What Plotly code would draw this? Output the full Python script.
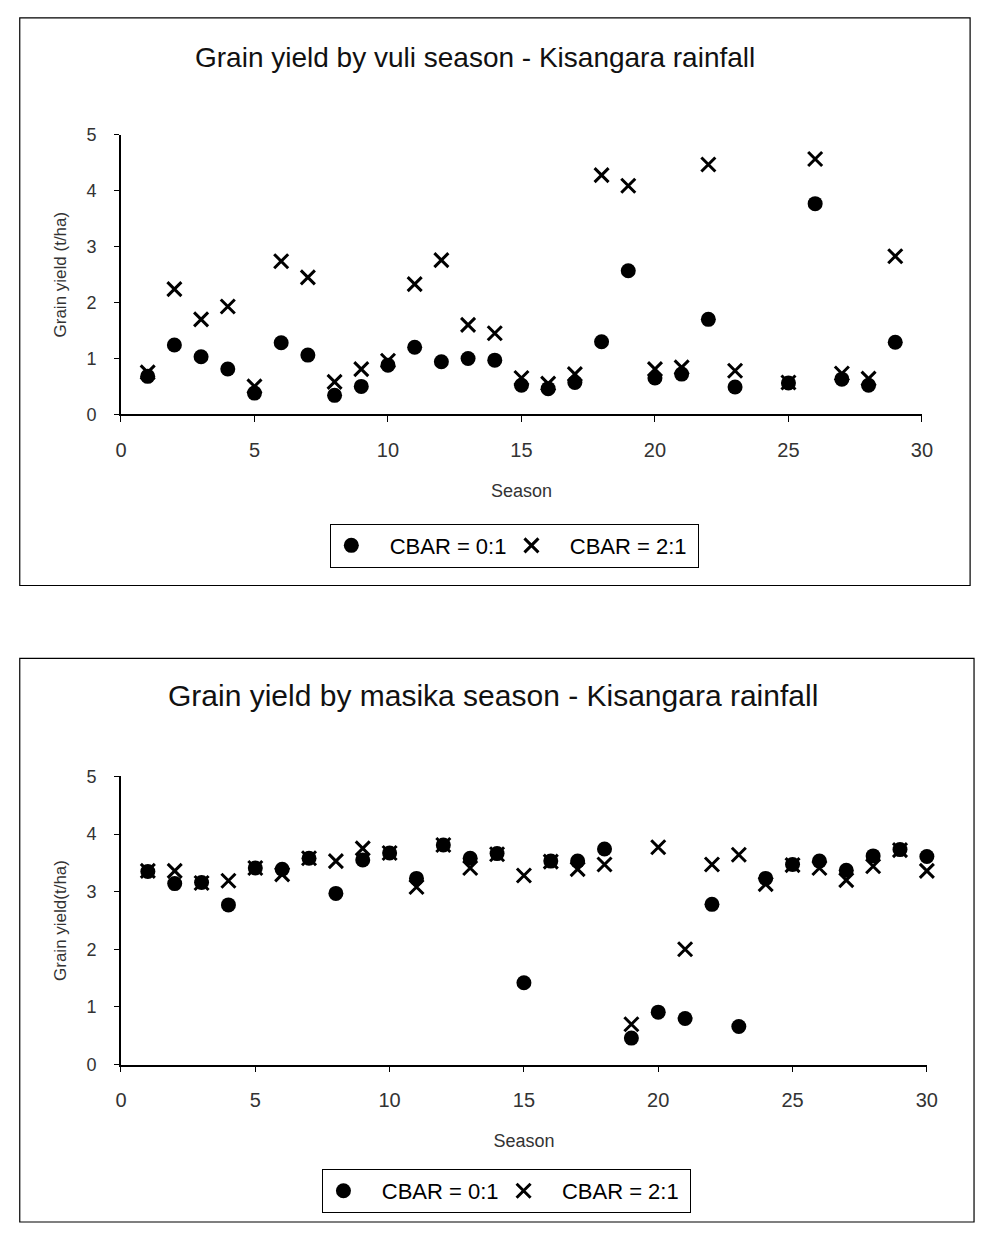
import plotly.graph_objects as go

W, H = 987, 1233

# ---------------- data ----------------
season_vuli = list(range(1, 30))
vuli_cbar01 = [0.68, 1.24, 1.03, 0.81, 0.38, 1.28, 1.06, 0.34, 0.50, 0.88,
               1.20, 0.94, 1.00, 0.97, 0.52, 0.46, 0.57, 1.30, 2.57, 0.65,
               0.72, 1.70, 0.49, -0.05, 0.56, 3.77, 0.63, 0.52, 1.29]
vuli_cbar21 = [0.75, 2.24, 1.70, 1.93, 0.50, 2.74, 2.45, 0.58, 0.81, 0.96,
               2.33, 2.76, 1.60, 1.45, 0.65, 0.55, 0.72, 4.28, 4.09, 0.81,
               0.84, 4.47, 0.78, -0.03, 0.57, 4.57, 0.73, 0.64, 2.83]

season_masika = list(range(1, 31))
masika_cbar01 = [3.35, 3.14, 3.16, 2.77, 3.41, 3.39, 3.58, 2.97, 3.55, 3.67,
                 3.23, 3.81, 3.58, 3.66, 1.42, 3.53, 3.53, 3.74, 0.46, 0.91,
                 0.80, 2.78, 0.66, 3.23, 3.47, 3.53, 3.37, 3.62, 3.73, 3.61]
masika_cbar21 = [3.36, 3.36, 3.15, 3.19, 3.41, 3.30, 3.58, 3.53, 3.75, 3.67,
                 3.08, 3.81, 3.41, 3.65, 3.28, 3.52, 3.39, 3.47, 0.70, 3.77,
                 2.00, 3.47, 3.64, 3.13, 3.46, 3.41, 3.20, 3.44, 3.72, 3.36]

x_ticks = [0, 5, 10, 15, 20, 25, 30]
y_ticks = [0, 1, 2, 3, 4, 5]
NB = "\u00a0"
names = [NB * 3 + "CBAR = 0:1", NB * 3 + "CBAR = 2:1" + NB]

# ---------------- helpers ----------------
def px_x(p):
    return p / W

def px_y(p):
    return 1 - p / H

circle = dict(symbol="circle", size=15, color="black")
cross = dict(symbol="x-thin", size=14, color="black", line=dict(color="black", width=3))

fig = go.Figure()
fig.add_trace(go.Scatter(x=season_vuli, y=vuli_cbar01, mode="markers", marker=circle,
                         name=names[0], xaxis="x", yaxis="y", legend="legend", cliponaxis=False))
fig.add_trace(go.Scatter(x=season_vuli, y=vuli_cbar21, mode="markers", marker=cross,
                         name=names[1], xaxis="x", yaxis="y", legend="legend", cliponaxis=False))
fig.add_trace(go.Scatter(x=season_masika, y=masika_cbar01, mode="markers", marker=circle,
                         name=names[0], xaxis="x2", yaxis="y2", legend="legend2", cliponaxis=False))
fig.add_trace(go.Scatter(x=season_masika, y=masika_cbar21, mode="markers", marker=cross,
                         name=names[1], xaxis="x2", yaxis="y2", legend="legend2", cliponaxis=False))

tick_font_x = dict(family="Liberation Sans, Arial", size=20, color="#333")
tick_font_y = dict(family="Liberation Sans, Arial", size=18, color="#333")
title_font = dict(family="Liberation Sans, Arial", size=17, color="#333")

def xax(domain, anchor):
    return dict(domain=domain, anchor=anchor, range=[0, 30], tickvals=x_ticks,
                showline=True, linecolor="black", linewidth=1.5, showgrid=False,
                zeroline=False, ticks="outside", ticklen=6, tickwidth=1.2, tickcolor="black",
                tickfont=tick_font_x, ticklabelstandoff=11,
                title=dict(text="Season", font=dict(family="Liberation Sans, Arial", size=18, color="#333"),
                           standoff=24))

def yax(domain, anchor, title):
    return dict(domain=domain, anchor=anchor, range=[0, 5], tickvals=y_ticks,
                showline=True, linecolor="black", linewidth=1.5, showgrid=False,
                zeroline=False, ticks="outside", ticklen=5, tickwidth=1.2, tickcolor="black",
                tickfont=tick_font_y, ticklabelstandoff=14,
                title=dict(text=title, font=title_font, standoff=16))

legend_font = dict(family="Liberation Sans, Arial", size=22, color="black")

fig.update_layout(
    width=W, height=H,
    margin=dict(l=0, r=0, t=0, b=0),
    paper_bgcolor="white", plot_bgcolor="white",
    xaxis=xax([px_x(117), px_x(932)], "y"),
    yaxis=yax([px_y(411), px_y(127)], "x", "Grain yield (t/ha)"),
    xaxis2=xax([px_x(117), px_x(937)], "y2"),
    yaxis2=yax([px_y(1072), px_y(779)], "x2", "Grain yield(t/ha)"),
    legend=dict(orientation="h", x=px_x(330), y=px_y(522), xanchor="left", yanchor="top",
                bordercolor="black", borderwidth=1, font=legend_font, itemwidth=30,
                bgcolor="white"),
    legend2=dict(orientation="h", x=px_x(322), y=px_y(1178), xanchor="left", yanchor="top",
                 bordercolor="black", borderwidth=1, font=legend_font, itemwidth=30,
                 bgcolor="white"),
    showlegend=True,
    shapes=[
        dict(type="rect", xref="paper", yref="paper", x0=px_x(14), x1=px_x(981),
             y0=px_y(585), y1=px_y(8), line=dict(color="black", width=1.2)),
        dict(type="rect", xref="paper", yref="paper", x0=px_x(14), x1=px_x(985),
             y0=px_y(1232), y1=px_y(659), line=dict(color="black", width=1.2)),
    ],
    annotations=[
        dict(text="Grain yield by vuli season - Kisangara rainfall", xref="paper", yref="paper",
             x=px_x(477), y=px_y(48), showarrow=False, xanchor="center", yanchor="middle",
             font=dict(family="Liberation Sans, Arial", size=28, color="#111")),
        dict(text="Grain yield by masika season - Kisangara rainfall", xref="paper", yref="paper",
             x=px_x(496), y=px_y(697), showarrow=False, xanchor="center", yanchor="middle",
             font=dict(family="Liberation Sans, Arial", size=30, color="#111")),
    ],
)

fig.write_html("out.html", config={"displayModeBar": False},
               post_script="document.body.style.margin='0';document.body.style.overflow='hidden';")
